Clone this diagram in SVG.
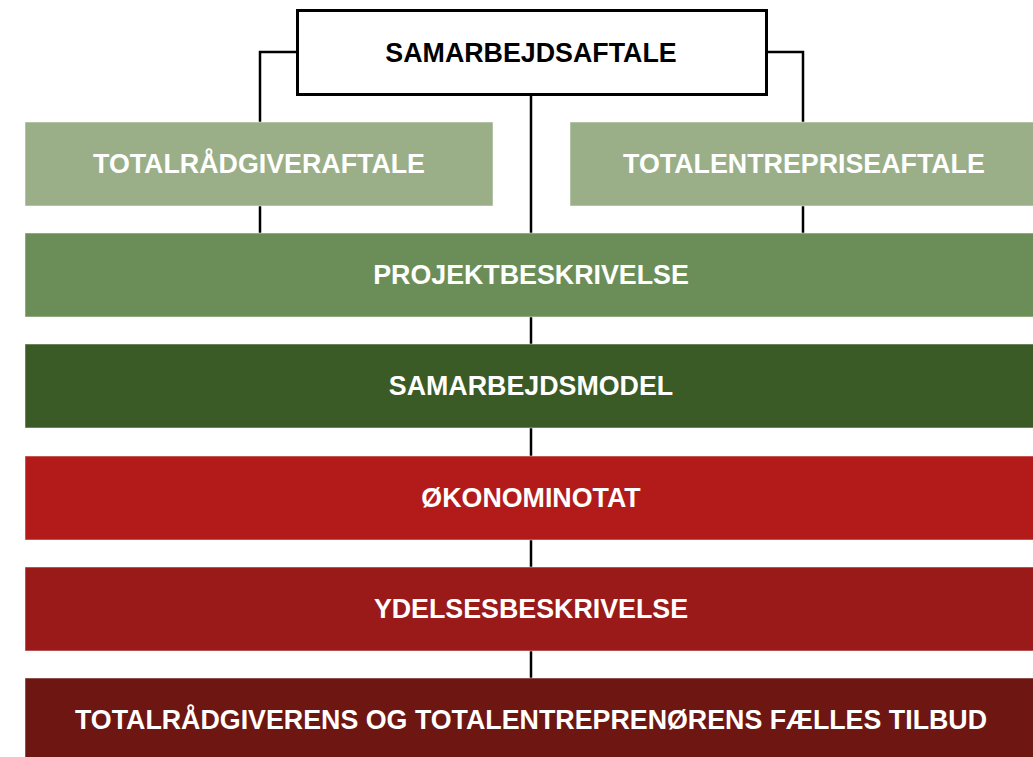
<svg xmlns="http://www.w3.org/2000/svg" width="1033" height="757" viewBox="0 0 1033 757">
<style>
.lbl{font-family:"Liberation Sans",Arial,sans-serif;font-weight:bold;font-size:26.8px;text-anchor:middle;fill:#ffffff}
.box{stroke:#ffffff;stroke-opacity:0.5;stroke-width:1}
.con{fill:none;stroke:#000000;stroke-width:2.5}
</style>
<rect width="1033" height="757" fill="#ffffff"/>
<g id="connectors">
<path class="con" d="M531,95 V678"/>
<path class="con" d="M297,52 H260 V233"/>
<path class="con" d="M767,52 H803 V233"/>
</g>
<g id="samarbejdsaftale">
<rect x="297.5" y="10.5" width="469" height="84" fill="#ffffff" stroke="#000000" stroke-width="3"/>
<text x="531" y="62" class="lbl" style="fill:#000000">SAMARBEJDSAFTALE</text>
</g>
<g id="totalraadgiveraftale">
<rect class="box" x="25" y="122" width="468" height="84" fill="#9AAF88"/>
<text x="259" y="173" class="lbl">TOTALRÅDGIVERAFTALE</text>
</g>
<g id="totalentrepriseaftale">
<rect class="box" x="570" y="122" width="464" height="84" fill="#9AAF88"/>
<text x="804" y="173" class="lbl">TOTALENTREPRISEAFTALE</text>
</g>
<g id="projektbeskrivelse">
<rect class="box" x="25" y="233" width="1009" height="84" fill="#6B8E58"/>
<text x="531" y="284" class="lbl">PROJEKTBESKRIVELSE</text>
</g>
<g id="samarbejdsmodel">
<rect class="box" x="25" y="344" width="1009" height="84" fill="#3A5A26"/>
<text x="531" y="395" class="lbl">SAMARBEJDSMODEL</text>
</g>
<g id="oekonominotat">
<rect class="box" x="25" y="456" width="1009" height="84" fill="#B31B1A"/>
<text x="531" y="507" class="lbl">ØKONOMINOTAT</text>
</g>
<g id="ydelsesbeskrivelse">
<rect class="box" x="25" y="567" width="1009" height="84" fill="#9A1A1A"/>
<text x="531" y="618" class="lbl">YDELSESBESKRIVELSE</text>
</g>
<g id="faelles-tilbud">
<rect class="box" x="25" y="678" width="1009" height="84" fill="#6E1611"/>
<text x="531" y="729" class="lbl">TOTALRÅDGIVERENS OG TOTALENTREPRENØRENS FÆLLES TILBUD</text>
</g>
</svg>
